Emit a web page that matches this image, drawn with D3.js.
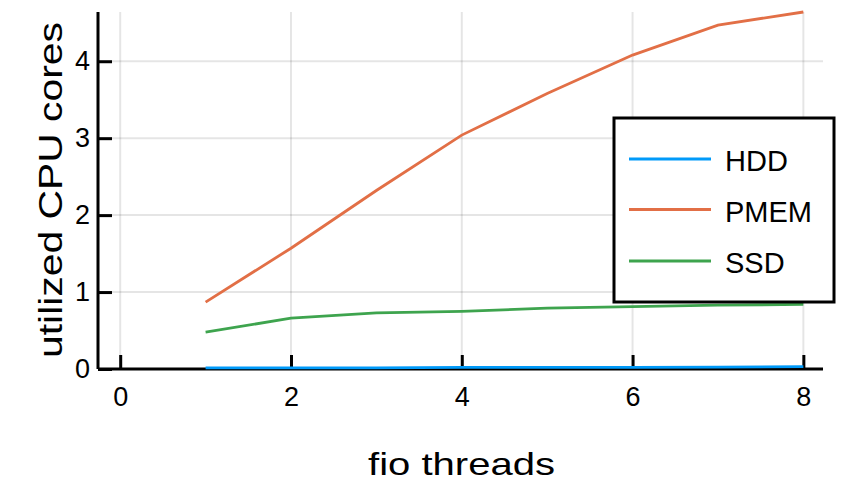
<!DOCTYPE html>
<html><head><meta charset="utf-8">
<script src="https://cdn.jsdelivr.net/npm/d3@7"></script>
<style>body{margin:0;background:#fff}svg{display:block}text{font-family:"Liberation Sans",Arial,sans-serif}</style>
</head><body><svg id="c" width="843" height="484"></svg>
<script>
const threads = [1,2,3,4,5,6,7,8];
const hdd  = [0.015,0.015,0.015,0.02,0.02,0.02,0.025,0.03];
const pmem = [0.87,1.57,2.32,3.04,3.58,4.08,4.47,4.64];
const ssd  = [0.48,0.66,0.73,0.75,0.79,0.81,0.83,0.84];
const seriesNames = ["HDD","PMEM","SSD"];
const seriesColors = ["#009af9","#e26f46","#3ea44e"];
const xTicks = [0,2,4,6,8];
const yTicks = [0,1,2,3,4];

const svg = d3.select("#c");
const L=98, R=823, T=12, B=369;
const x = d3.scaleLinear().domain([-0.26,8.23]).range([L,R]);
const y = d3.scaleLinear().domain([0,4.64]).range([B,T]);

const g = svg.append("g");
g.selectAll(".gx").data(xTicks).join("line").attr("x1",d=>x(d)).attr("x2",d=>x(d)).attr("y1",T).attr("y2",B)
 .attr("stroke","#000").attr("stroke-opacity",0.1).attr("stroke-width",2);
g.selectAll(".gy").data(yTicks).join("line").attr("x1",L).attr("x2",R).attr("y1",d=>y(d)).attr("y2",d=>y(d))
 .attr("stroke","#000").attr("stroke-opacity",0.1).attr("stroke-width",2);

const xAxis = d3.axisBottom(x).tickValues(xTicks).tickSize(-14).tickPadding(18).tickFormat(d3.format("d"));
const gx = svg.append("g").attr("transform",`translate(0,${B})`).call(xAxis);
gx.attr("font-family",null).attr("font-size",null);
gx.select(".domain").attr("d",`M${L},0H${R}`).attr("stroke-width",3);
gx.selectAll(".tick line").attr("stroke-width",3);
gx.selectAll("text").style("font-size","27px").attr("fill","#000");

const yAxis = d3.axisLeft(y).tickValues(yTicks).tickSize(-14).tickPadding(8).tickFormat(d3.format("d"));
const gy = svg.append("g").attr("transform",`translate(${L},0)`).call(yAxis);
gy.attr("font-family",null).attr("font-size",null);
gy.select(".domain").attr("d",`M0,${T}V${B}`).attr("stroke-width",3);
gy.selectAll(".tick line").attr("stroke-width",3);
gy.selectAll("text").style("font-size","27px").attr("fill","#000");

const data = [hdd,pmem,ssd];
const line = d3.line().x((d,i)=>x(threads[i])).y(d=>y(d));
data.forEach((s,i)=>{
  svg.append("path").datum(s).attr("d",line).attr("fill","none").attr("stroke",seriesColors[i]).attr("stroke-width",2.8);
});

svg.append("text").attr("x",461.5).attr("y",475).attr("text-anchor","middle").style("font-size","32px")
  .attr("textLength",187).attr("lengthAdjust","spacingAndGlyphs").text("fio threads");
svg.append("text").attr("transform",`translate(62,190) rotate(-90)`).attr("text-anchor","middle").style("font-size","33px")
  .attr("textLength",336).attr("lengthAdjust","spacingAndGlyphs").text("utilized CPU cores");

const lg = svg.append("g");
lg.append("rect").attr("x",614).attr("y",118).attr("width",220).attr("height",184).attr("fill","#fff").attr("stroke","#000").attr("stroke-width",3);
const legY = [159,209.5,261];
seriesNames.forEach((n,i)=>{
  const yy = legY[i];
  lg.append("line").attr("x1",629).attr("x2",711).attr("y1",yy).attr("y2",yy).attr("stroke",seriesColors[i]).attr("stroke-width",2.8);
  lg.append("text").attr("x",725).attr("y",yy+12).style("font-size","29px").text(n);
});
</script></body></html>
